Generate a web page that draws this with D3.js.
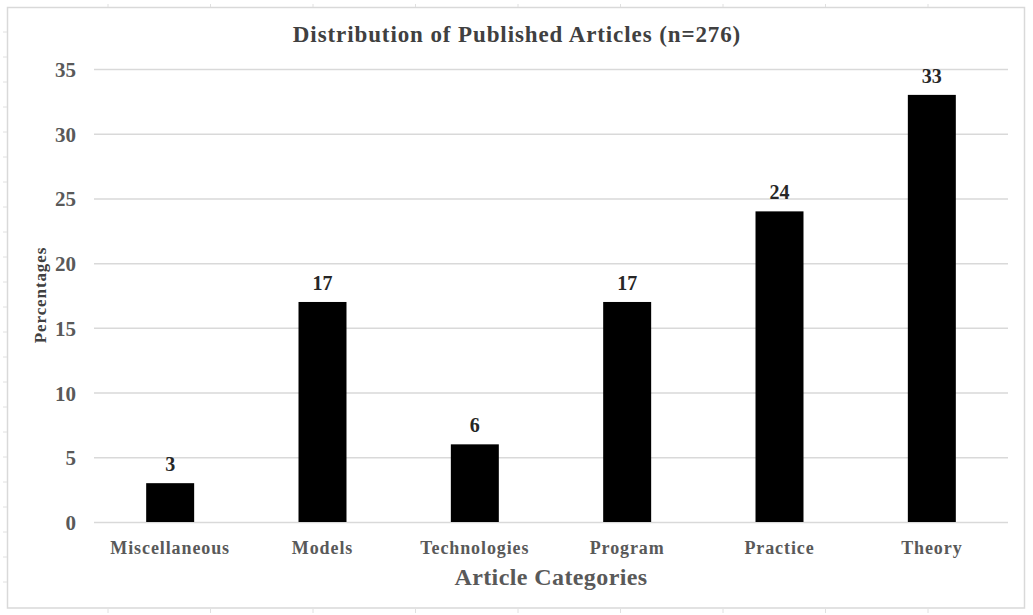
<!DOCTYPE html>
<html>
<head>
<meta charset="utf-8">
<script src="https://cdn.jsdelivr.net/npm/d3@7/dist/d3.min.js"></script>
<style>
  html, body { margin: 0; padding: 0; background: #fff; }
  svg { display: block; }
  text { font-family: "Liberation Serif", "Times New Roman", serif; font-weight: bold; }
</style>
</head>
<body>
<svg id="chart" width="1033" height="615"></svg>
<script>
const categories = ["Miscellaneous", "Models", "Technologies", "Program", "Practice", "Theory"];
const percentages = [3, 17, 6, 17, 24, 33];
const yTicks = [0, 5, 10, 15, 20, 25, 30, 35];
const chartTitle = "Distribution of Published Articles (n=276)";
const xTitle = "Article Categories";
const yTitle = "Percentages";

const svg = d3.select("#chart");
const plot = { left: 94, right: 1008, top: 69, bottom: 522 };

// outer frame
svg.append("rect")
  .attr("x", 7.5).attr("y", 7.5)
  .attr("width", 1017).attr("height", 600.5)
  .attr("fill", "#fff").attr("stroke", "#d9d9d9").attr("stroke-width", 1.5);

// decorative ruler ticks outside the frame
const rulerX = d3.range(108, 1020, 102.5);
svg.append("g").selectAll("line").data(rulerX).join("line")
  .attr("x1", d => d).attr("x2", d => d).attr("y1", 4).attr("y2", 7)
  .attr("stroke", "#e0e0e0");
svg.append("g").selectAll("line").data(rulerX).join("line")
  .attr("x1", d => d).attr("x2", d => d).attr("y1", 609).attr("y2", 613)
  .attr("stroke", "#e0e0e0");
const rulerY = d3.range(32, 605, 25);
svg.append("g").selectAll("line").data(rulerY).join("line")
  .attr("x1", 3).attr("x2", 7).attr("y1", d => d).attr("y2", d => d)
  .attr("stroke", "#e0e0e0");

const x = d3.scaleBand().domain(categories).range([plot.left, plot.right]).paddingInner(0.685).paddingOuter(0.3425);
const y = d3.scaleLinear().domain([0, 35]).range([plot.bottom, plot.top]);

// gridlines
svg.append("g")
  .attr("transform", `translate(${plot.left},0)`)
  .call(d3.axisLeft(y).tickValues(yTicks).tickSize(-(plot.right - plot.left)).tickFormat(""))
  .call(g => g.select(".domain").remove())
  .call(g => g.selectAll(".tick line").attr("stroke", "#d9d9d9").attr("stroke-width", 1.5));

// y tick labels
svg.append("g")
  .attr("transform", `translate(76,0)`)
  .call(d3.axisLeft(y).tickValues(yTicks).tickSize(0).tickPadding(0))
  .call(g => g.select(".domain").remove())
  .call(g => g.selectAll(".tick text")
    .attr("fill", "#595959").attr("font-size", 21).attr("dy", "0.36em")
    .style("font-family", "Liberation Serif, serif").style("font-weight", "bold"));

// bars
svg.append("g").selectAll("rect").data(categories).join("rect")
  .attr("x", d => x(d))
  .attr("y", (d, i) => y(percentages[i]))
  .attr("width", x.bandwidth())
  .attr("height", (d, i) => y(0) - y(percentages[i]))
  .attr("fill", "#000");

// value labels
svg.append("g").selectAll("text").data(categories).join("text")
  .attr("x", d => x(d) + x.bandwidth() / 2)
  .attr("y", (d, i) => y(percentages[i]) - 12)
  .attr("text-anchor", "middle")
  .attr("font-size", 20)
  .attr("fill", "#262626")
  .text((d, i) => percentages[i]);

// x axis category labels
svg.append("g")
  .attr("transform", `translate(0,${plot.bottom})`)
  .call(d3.axisBottom(x).tickSize(0).tickPadding(0))
  .call(g => g.select(".domain").remove())
  .call(g => g.selectAll(".tick text")
    .attr("y", 32).attr("dy", 0)
    .attr("fill", "#595959").attr("font-size", 18)
    .attr("letter-spacing", 0.9)
    .style("font-family", "Liberation Serif, serif").style("font-weight", "bold"));

// title
svg.append("text")
  .attr("x", 517).attr("y", 42)
  .attr("text-anchor", "middle")
  .attr("font-size", 23)
  .attr("letter-spacing", 0.9)
  .attr("fill", "#404040")
  .text(chartTitle);

// x axis title
svg.append("text")
  .attr("x", 551).attr("y", 585)
  .attr("text-anchor", "middle")
  .attr("font-size", 24)
  .attr("letter-spacing", 0.4)
  .attr("fill", "#595959")
  .text(xTitle);

// y axis title
svg.append("text")
  .attr("transform", `translate(46,295) rotate(-90)`)
  .attr("text-anchor", "middle")
  .attr("font-size", 17)
  .attr("letter-spacing", 0.9)
  .attr("fill", "#404040")
  .text(yTitle);
</script>
</body>
</html>
